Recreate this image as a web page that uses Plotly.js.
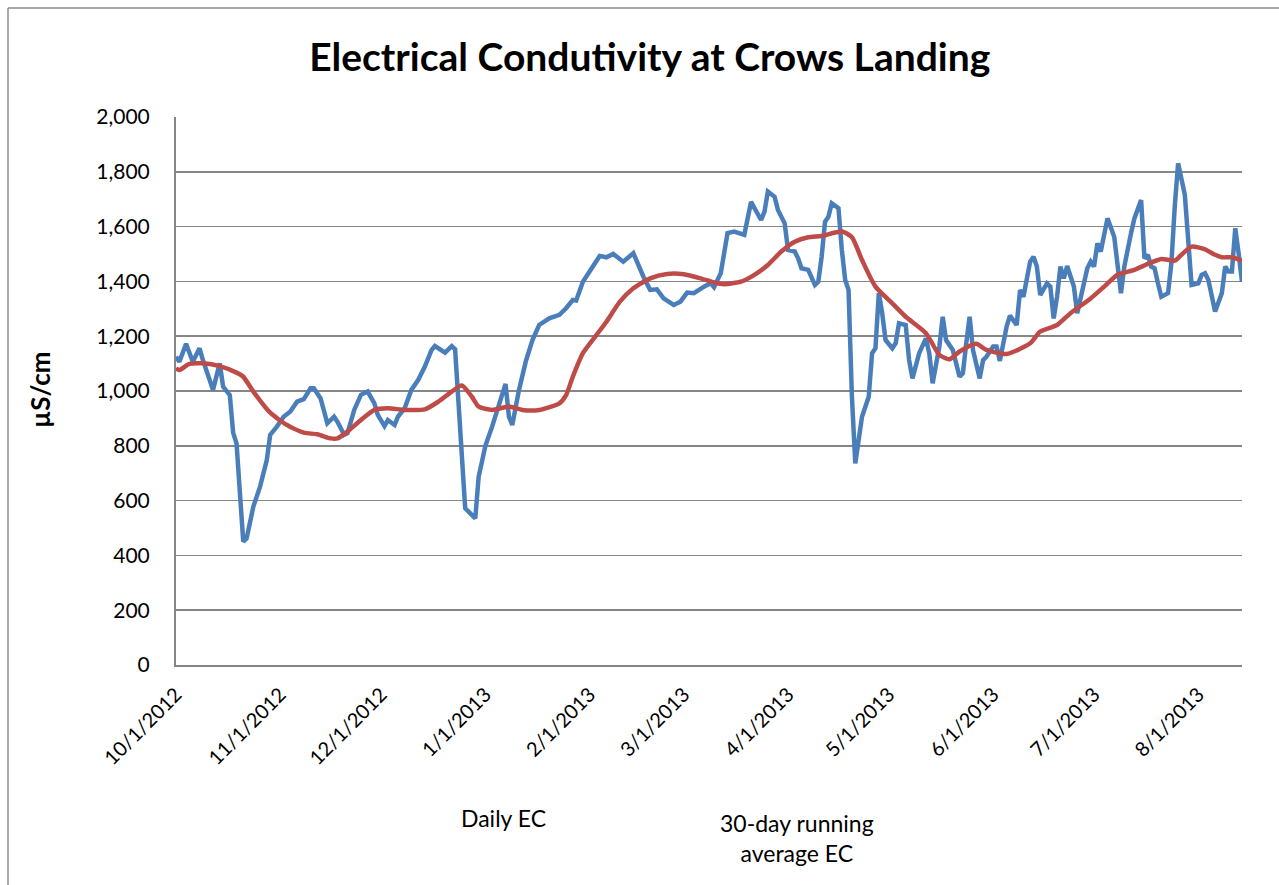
<!DOCTYPE html>
<html>
<head>
<meta charset="utf-8">
<script src="https://cdn.plot.ly/plotly-3.0.1.min.js"></script>
<style>html,body{margin:0;padding:0;background:#fff;}#chart{width:1279px;height:885px;}</style>
</head>
<body>
<div id="chart"></div>
<script>
// Daily EC (µS/cm)
const dailyDates = [
"2012-10-01","2012-10-02","2012-10-04","2012-10-06","2012-10-08","2012-10-09","2012-10-12","2012-10-14","2012-10-15","2012-10-17",
"2012-10-18","2012-10-19","2012-10-21","2012-10-22","2012-10-24","2012-10-26","2012-10-28","2012-10-29","2012-10-31","2012-11-02",
"2012-11-04","2012-11-06","2012-11-08","2012-11-10","2012-11-11","2012-11-13","2012-11-15","2012-11-17","2012-11-18","2012-11-20",
"2012-11-21","2012-11-23","2012-11-25","2012-11-27","2012-11-29","2012-11-30","2012-12-02","2012-12-03","2012-12-05","2012-12-06",
"2012-12-08","2012-12-10","2012-12-12","2012-12-14","2012-12-16","2012-12-17","2012-12-20","2012-12-22","2012-12-23","2012-12-24",
"2012-12-25","2012-12-26","2012-12-29","2012-12-30","2013-01-01","2013-01-03","2013-01-07","2013-01-08","2013-01-09","2013-01-11",
"2013-01-13","2013-01-15","2013-01-17","2013-01-20","2013-01-23","2013-01-25","2013-01-27","2013-01-28","2013-01-30","2013-02-01",
"2013-02-04","2013-02-06","2013-02-08","2013-02-11","2013-02-14","2013-02-17","2013-02-19","2013-02-21","2013-02-23","2013-02-26",
"2013-02-28","2013-03-02","2013-03-04","2013-03-07","2013-03-09","2013-03-10","2013-03-12","2013-03-14","2013-03-16","2013-03-19",
"2013-03-21","2013-03-24","2013-03-25","2013-03-26","2013-03-28","2013-03-29","2013-03-31","2013-04-01","2013-04-03","2013-04-04",
"2013-04-05","2013-04-07","2013-04-09","2013-04-10","2013-04-11","2013-04-12","2013-04-13","2013-04-14","2013-04-16","2013-04-17",
"2013-04-18","2013-04-19","2013-04-20","2013-04-21","2013-04-22","2013-04-23","2013-04-25","2013-04-26","2013-04-27","2013-04-28",
"2013-04-29","2013-04-30","2013-05-02","2013-05-03","2013-05-04","2013-05-06","2013-05-07","2013-05-08","2013-05-10","2013-05-12",
"2013-05-13","2013-05-14","2013-05-16","2013-05-17","2013-05-18","2013-05-20","2013-05-22","2013-05-23","2013-05-24","2013-05-25",
"2013-05-26","2013-05-28","2013-05-29","2013-05-30","2013-06-01","2013-06-02","2013-06-03","2013-06-05","2013-06-06","2013-06-08",
"2013-06-09","2013-06-10","2013-06-12","2013-06-13","2013-06-14","2013-06-15","2013-06-17","2013-06-18","2013-06-19","2013-06-20",
"2013-06-21","2013-06-22","2013-06-23","2013-06-25","2013-06-26","2013-06-27","2013-06-29","2013-06-30","2013-07-01","2013-07-02",
"2013-07-03","2013-07-04","2013-07-05","2013-07-07","2013-07-08","2013-07-09","2013-07-10","2013-07-11","2013-07-12","2013-07-13",
"2013-07-15","2013-07-16","2013-07-17","2013-07-18","2013-07-19","2013-07-20","2013-07-21","2013-07-23","2013-07-24","2013-07-25",
"2013-07-26","2013-07-28","2013-07-29","2013-07-30","2013-08-01","2013-08-02","2013-08-03","2013-08-04","2013-08-06","2013-08-08",
"2013-08-09","2013-08-10","2013-08-11","2013-08-12","2013-08-13","2013-08-14"
];
const dailyEC = [
1125,1107,1172,1107,1156,1113,1004,1101,1016,985,
847,809,450,462,578,651,748,840,870,906,
925,961,970,1010,1010,973,882,906,888,840,
846,931,986,998,955,913,872,894,876,906,
937,1004,1040,1089,1150,1164,1140,1164,1152,955,
724,572,535,687,800,870,1026,906,876,1004,
1107,1186,1241,1265,1278,1302,1332,1330,1399,1436,
1493,1488,1500,1472,1503,1417,1369,1371,1338,1314,
1326,1359,1357,1381,1393,1379,1430,1576,1582,1570,
1690,1624,1655,1728,1709,1661,1612,1515,1509,1484,
1448,1442,1387,1399,1490,1618,1636,1685,1667,1515,
1405,1369,979,736,833,906,979,1138,1156,1357,
1284,1186,1156,1174,1247,1241,1113,1046,1138,1192,
1138,1028,1162,1271,1186,1150,1052,1065,1174,1271,
1150,1046,1113,1125,1162,1162,1110,1235,1275,1241,
1369,1344,1472,1490,1454,1350,1393,1381,1265,1344,
1454,1411,1456,1381,1284,1344,1448,1472,1454,1539,
1509,1570,1630,1563,1442,1357,1454,1527,1576,1630,
1697,1484,1497,1454,1448,1393,1344,1357,1466,1673,
1831,1716,1539,1387,1393,1424,1430,1405,1290,1357,
1454,1436,1436,1594,1503,1399
];
// 30-day running average EC (µS/cm)
const avgDates = [
"2012-10-01","2012-10-02","2012-10-05","2012-10-09","2012-10-14","2012-10-19","2012-10-21","2012-10-24","2012-10-29","2012-11-03",
"2012-11-08","2012-11-12","2012-11-16","2012-11-18","2012-11-21","2012-11-25","2012-11-29","2012-12-03","2012-12-08","2012-12-14",
"2012-12-18","2012-12-22","2012-12-25","2012-12-28","2012-12-30","2013-01-03","2013-01-08","2013-01-12","2013-01-17","2013-01-23",
"2013-01-25","2013-01-27","2013-01-30","2013-02-03","2013-02-06","2013-02-10","2013-02-14","2013-02-19","2013-02-24","2013-03-01",
"2013-03-06","2013-03-10","2013-03-13","2013-03-18","2013-03-22","2013-03-26","2013-03-30","2013-04-03","2013-04-07","2013-04-11",
"2013-04-17","2013-04-20","2013-04-23","2013-04-27","2013-05-02","2013-05-06","2013-05-12","2013-05-16","2013-05-19","2013-05-22",
"2013-05-27","2013-05-30","2013-06-05","2013-06-12","2013-06-15","2013-06-20","2013-06-24","2013-06-30","2013-07-04","2013-07-08",
"2013-07-13","2013-07-17","2013-07-21","2013-07-25","2013-07-27","2013-07-30","2013-08-03","2013-08-06","2013-08-08","2013-08-11",
"2013-08-14"
];
const avgEC = [
1083,1077,1099,1101,1091,1067,1052,998,921,876,
848,842,827,827,852,894,931,937,931,933,
961,998,1020,979,943,931,943,931,931,955,
985,1052,1138,1204,1253,1326,1375,1411,1427,1426,
1411,1396,1390,1399,1424,1460,1509,1545,1561,1566,
1582,1561,1478,1381,1320,1271,1211,1132,1116,1144,
1172,1150,1135,1174,1217,1241,1284,1338,1381,1424,
1442,1464,1482,1476,1497,1527,1517,1497,1488,1488,
1476
];
const seriesNames = ["Daily EC", "30-day running average EC"];
const tickDates = ["2012-10-01","2012-11-01","2012-12-01","2013-01-01","2013-02-01","2013-03-01","2013-04-01","2013-05-01","2013-06-01","2013-07-01","2013-08-01"];
const tickLabels = ["10/1/2012","11/1/2012","12/1/2012","1/1/2013","2/1/2013","3/1/2013","4/1/2013","5/1/2013","6/1/2013","7/1/2013","8/1/2013"];

const FONT = "Lato, 'Open Sans', 'DejaVu Sans', sans-serif";
const traces = [
  {x: dailyDates, y: dailyEC, name: seriesNames[0], type: "scatter", mode: "lines",
   line: {color: "#4A7EBB", width: 4.5, shape: "linear"}, showlegend: false},
  {x: avgDates, y: avgEC, name: seriesNames[1], type: "scatter", mode: "lines",
   line: {color: "#BE4B48", width: 4.5, shape: "spline", smoothing: 0.6}, showlegend: false}
];

// pixel -> paper helpers for decorative frame and free text
const L = 176, R = 1242, T = 117, B = 665;
const px = v => (v - L) / (R - L);
const py = v => (B - v) / (B - T);

const layout = {
  width: 1279, height: 885,
  margin: {l: L, r: 1279 - R, t: T, b: 885 - B, pad: 0},
  paper_bgcolor: "#fff", plot_bgcolor: "#fff",
  font: {family: FONT, color: "#000"},
  title: {text: "<b>Electrical Condutivity at Crows Landing</b>", font: {family: FONT, size: 39, color: "#000"},
          x: 0.508, xanchor: "center", y: 0.935, yanchor: "middle"},
  xaxis: {type: "date", range: ["2012-10-01", "2013-08-14"], tickmode: "array",
          tickvals: tickDates, ticktext: tickLabels, tickangle: -45,
          tickfont: {family: FONT, size: 20, color: "#000"}, ticklabelstandoff: 8,
          showgrid: false, zeroline: false, showline: true, linecolor: "#868686", linewidth: 2,
          ticks: "", fixedrange: true},
  yaxis: {range: [0, 2000], dtick: 200, tick0: 0, tickformat: ",d",
          tickfont: {family: FONT, size: 21, color: "#000"}, ticklabelstandoff: 20,
          showgrid: true, gridcolor: "#868686", gridwidth: 1.5, zeroline: false,
          showline: true, linecolor: "#868686", linewidth: 2, ticks: "", ticklen: 0,
          fixedrange: true},
  shapes: [
    {type: "line", xref: "paper", yref: "paper", x0: px(8), x1: px(1279), y0: py(8), y1: py(8), line: {color: "#8c8c8c", width: 1.5}},
    {type: "line", xref: "paper", yref: "paper", x0: px(8), x1: px(8), y0: py(8), y1: py(885), line: {color: "#8c8c8c", width: 1.5}}
  ],
  annotations: [
    {xref: "paper", yref: "paper", x: px(40), y: py(390), text: "<b>µS/cm</b>", showarrow: false, textangle: -90,
     font: {family: FONT, size: 26, color: "#000"}, xanchor: "center", yanchor: "middle"},
    {xref: "paper", yref: "paper", x: px(503), y: py(818), text: seriesNames[0], showarrow: false,
     font: {family: FONT, size: 23, color: "#000"}, xanchor: "center", yanchor: "middle"},
    {xref: "paper", yref: "paper", x: px(797), y: py(838), text: "30-day running<br>average EC", showarrow: false,
     font: {family: FONT, size: 23, color: "#000"}, xanchor: "center", yanchor: "middle", align: "center"}
  ]
};
Plotly.newPlot("chart", traces, layout, {staticPlot: true, displayModeBar: false});
</script>
</body>
</html>
